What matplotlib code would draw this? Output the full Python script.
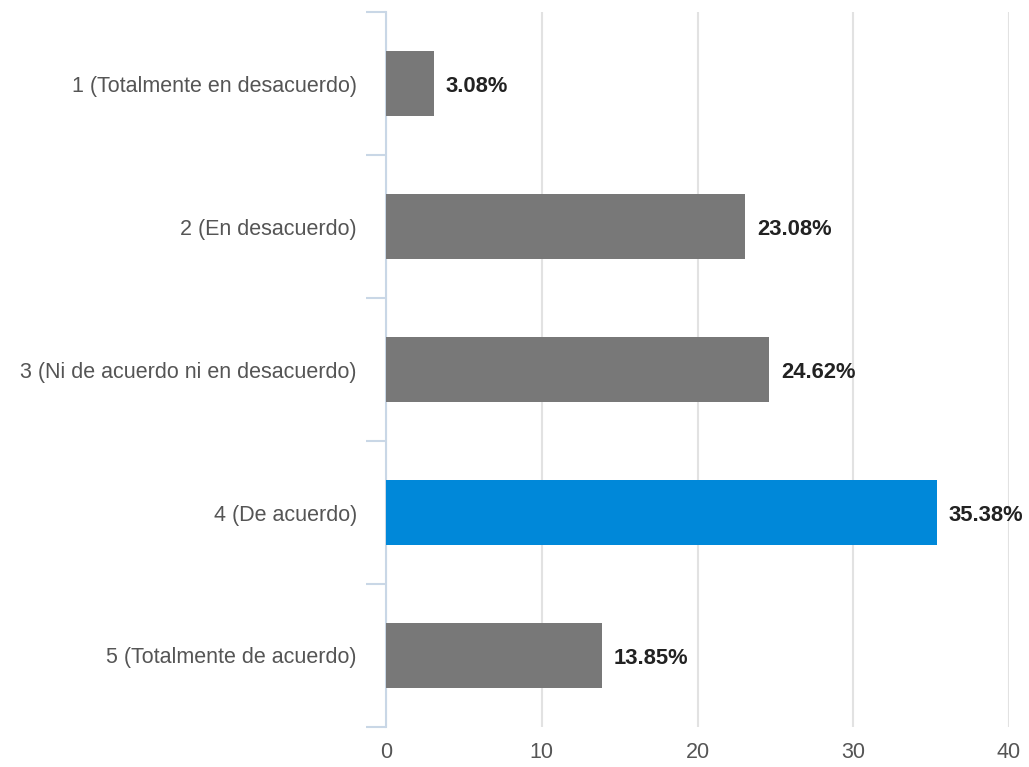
import matplotlib.pyplot as plt
import numpy as np

categories = [
    "1 (Totalmente en desacuerdo)",
    "2 (En desacuerdo)",
    "3 (Ni de acuerdo ni en desacuerdo)",
    "4 (De acuerdo)",
    "5 (Totalmente de acuerdo)",
]
percentages = [3.08, 23.08, 24.62, 35.38, 13.85]
highlight_index = 3
x_ticks = [0, 10, 20, 30, 40]

plt.rcParams['font.family'] = ['Liberation Sans', 'DejaVu Sans']

fig = plt.figure(figsize=(10.29, 7.67), dpi=100)
ax = fig.add_axes([386 / 1029, 1 - 727 / 767, (1009 - 386) / 1029, (727 - 12) / 767])

gray = "#787878"
blue = "#0088d9"
colors = [blue if i == highlight_index else gray for i in range(len(categories))]
ypos = np.arange(len(categories))

ax.barh(ypos, percentages, height=0.46, color=colors, zorder=3)

for y, v in zip(ypos, percentages):
    ax.text(v + 0.75, y + 0.02, f"{v:.2f}%", va="center", ha="left",
            fontsize=15.8, fontweight="bold", color="#222222", zorder=4)

ax.set_xlim(0, 40)
ax.set_ylim(len(categories) - 0.5, -0.5)
ax.set_xticks(x_ticks)
ax.set_xticklabels([str(t) for t in x_ticks])
ax.set_yticks(ypos)
ax.set_yticklabels(categories)
ax.set_yticks(np.arange(-0.5, len(categories), 1.0), minor=True)

ax.tick_params(axis="x", length=0, pad=11, labelsize=15.5, labelcolor="#555555")
ax.tick_params(axis="y", which="major", length=0, pad=21, labelsize=15.5, labelcolor="#555555")
ax.tick_params(axis="y", which="minor", length=14.5, width=1.5, color="#c9d7e6")

ax.xaxis.grid(True, color="#e2e2e2", linewidth=1.5, zorder=0)
ax.set_axisbelow(True)

for side in ["top", "right", "bottom"]:
    ax.spines[side].set_visible(False)
ax.spines["left"].set_color("#c9d7e6")
ax.spines["left"].set_linewidth(1.5)

fig.savefig("out.png", dpi=100, facecolor="white")
